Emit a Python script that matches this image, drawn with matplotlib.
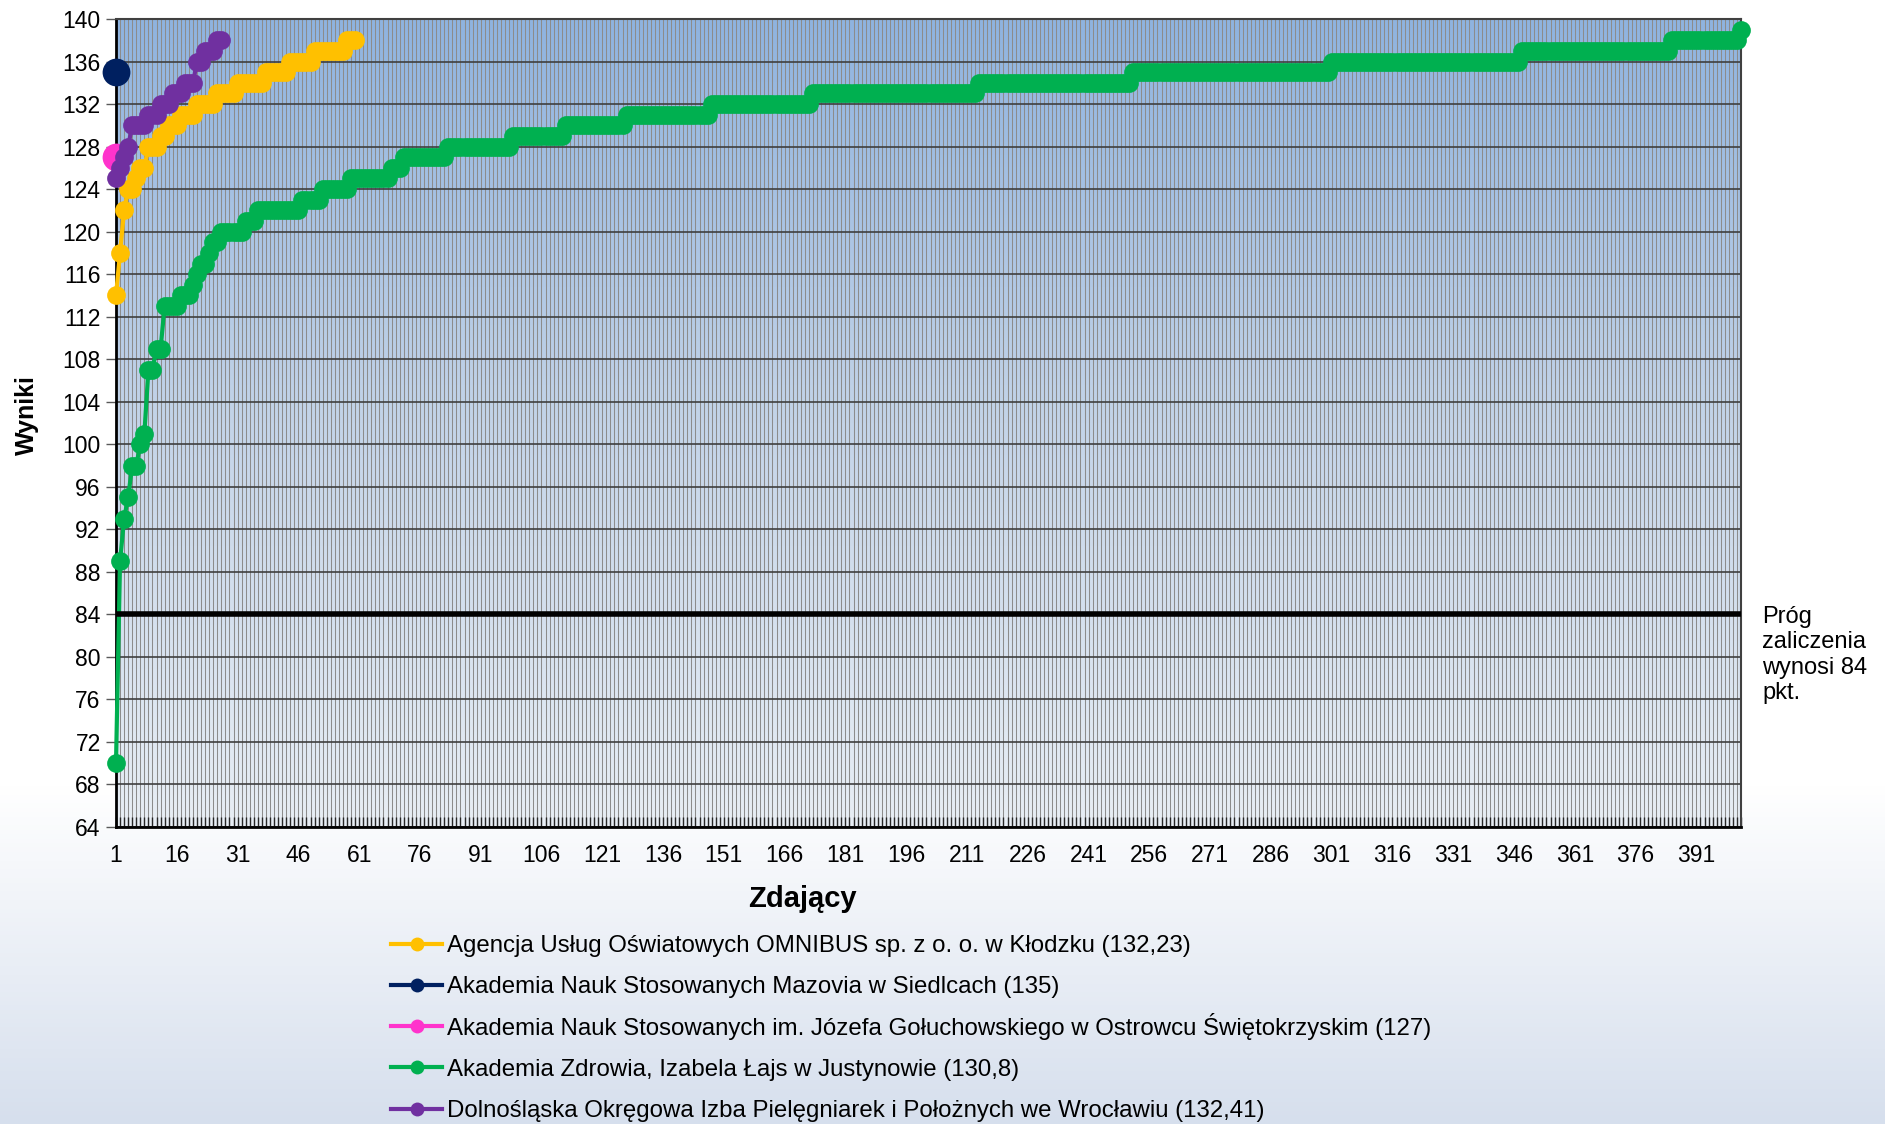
import numpy as np
import matplotlib.pyplot as plt
from matplotlib.colors import LinearSegmentedColormap
from matplotlib.lines import Line2D

plt.rcParams['font.family'] = ['Liberation Sans', 'DejaVu Sans']

# sorted results of each organiser: score levels and how many candidates had each
omnibus_scores = [114, 118, 122, 124, 125, 126, 128, 129, 130, 131, 132, 133, 134, 135, 136, 137, 138]
omnibus_counts = [1, 1, 1, 2, 1, 2, 3, 2, 3, 4, 5, 5, 7, 6, 6, 8, 3]

mazovia_scores = [135]
mazovia_counts = [1]

ostrowiec_scores = [127]
ostrowiec_counts = [1]

zdrowie_scores = [70, 89, 93, 95, 98, 100, 101, 107, 109, 113, 114, 115, 116, 117, 118, 119,
                  120, 121, 122, 123, 124, 125, 126, 127, 128, 129, 130, 131, 132, 133, 134,
                  135, 136, 137, 138, 139]
zdrowie_counts = [1, 1, 1, 1, 2, 1, 1, 2, 2, 4, 3, 1, 1, 2, 1, 2,
                  6, 3, 11, 5, 7, 10, 3, 11, 16, 13, 15, 21, 25, 41, 38,
                  49, 47, 37, 17, 1]

dolnoslaska_scores = [125, 126, 127, 128, 130, 131, 132, 133, 134, 136, 137, 138]
dolnoslaska_counts = [1, 1, 1, 1, 4, 3, 3, 3, 3, 2, 3, 2]

labels = [
    "Agencja Usług Oświatowych OMNIBUS sp. z o. o. w Kłodzku (132,23)",
    "Akademia Nauk Stosowanych Mazovia w Siedlcach (135)",
    "Akademia Nauk Stosowanych im. Józefa Gołuchowskiego w Ostrowcu Świętokrzyskim (127)",
    "Akademia Zdrowia, Izabela Łajs w Justynowie (130,8)",
    "Dolnośląska Okręgowa Izba Pielęgniarek i Położnych we Wrocławiu (132,41)",
]
colors = ["#FFC000", "#002060", "#FF33CC", "#00B050", "#7030A0"]
marker_sizes = [13.5, 20, 20, 13.5, 13.5]

threshold = 84
yticks = np.arange(64, 141, 4)
tick_step = 15

series = [
    np.repeat(omnibus_scores, omnibus_counts),
    np.repeat(mazovia_scores, mazovia_counts),
    np.repeat(ostrowiec_scores, ostrowiec_counts),
    np.repeat(zdrowie_scores, zdrowie_counts),
    np.repeat(dolnoslaska_scores, dolnoslaska_counts),
]
n_cat = max(len(s) for s in series)
cats = np.arange(1, n_cat + 1)

W, H = 1885, 1124
fig = plt.figure(figsize=(W / 100, H / 100), dpi=100)

# page background: white fading to pale blue at the bottom
bg = fig.add_axes([0, 0, 1, 1], zorder=-10)
bg.axis('off')
page_cmap = LinearSegmentedColormap.from_list('page', [(0, '#d6dfed'), (0.3, '#ffffff'), (1, '#ffffff')])
bg.imshow(np.linspace(0, 1, 256).reshape(-1, 1), aspect='auto', cmap=page_cmap,
          extent=[0, 1, 0, 1], origin='lower')

left, right, top, bottom = 116, 1741, 19, 827
ax = fig.add_axes([left / W, 1 - bottom / H, (right - left) / W, (bottom - top) / H])
ax.set_facecolor('none')

plot_cmap = LinearSegmentedColormap.from_list('plot', ['#e8eef5', '#c4d4e8', '#8fb3df'])
ax.imshow(np.linspace(0, 1, 256).reshape(-1, 1), aspect='auto', cmap=plot_cmap,
          extent=[0, 1, 0, 1], origin='lower', transform=ax.transAxes, zorder=0)

for s, lab, col, ms in zip(series, labels, colors, marker_sizes):
    ax.plot(np.arange(1, len(s) + 1), s, '-o', color=col, lw=3, ms=ms,
            markeredgewidth=0, label=lab, clip_on=False, zorder=4)

ax.axhline(threshold, color='black', lw=4, zorder=5)

ax.set_xlim(1, n_cat)
ax.set_ylim(64, 140)
ax.set_yticks(yticks)
ax.set_xticks(cats)
ax.set_xticklabels([str(c) if (c - 1) % tick_step == 0 else '' for c in cats])
ax.tick_params(axis='x', direction='in', length=7, width=1, color='#262626', pad=12, labelsize=16.5)
ax.tick_params(axis='y', direction='out', length=7, width=1, color='#595959', pad=4, labelsize=16.5)

ax.grid(axis='x', color='#8c8c8c', lw=0.75)
ax.grid(axis='y', color='#3f3f3f', lw=1.2)
for g in ax.get_xgridlines() + ax.get_ygridlines():
    g.set_zorder(1.5)

for side in ['left', 'bottom']:
    ax.spines[side].set_color('black')
    ax.spines[side].set_linewidth(2)
for side in ['top', 'right']:
    ax.spines[side].set_color('#404040')
    ax.spines[side].set_linewidth(1.5)

fig.text(26.5 / W, 1 - 415 / H, 'Wyniki', rotation=90, ha='center', va='center',
         fontsize=18, fontweight='bold')
fig.text(802 / W, 1 - 899 / H, 'Zdający', ha='center', va='center',
         fontsize=21, fontweight='bold')

fig.text(1762 / W, 1 - 606 / H, 'Próg\nzaliczenia\nwynosi 84\npkt.', ha='left', va='top',
         fontsize=17, linespacing=1.2)

# legend rows laid out by hand so the spacing stays even
row_y = 943.7
for lab, col in zip(labels, colors):
    yf = 1 - row_y / H
    fig.add_artist(Line2D([391 / W, 442 / W], [yf, yf], color=col, lw=3,
                          transform=fig.transFigure))
    fig.add_artist(Line2D([416.5 / W], [yf], color=col, marker='o', ms=10,
                          markeredgewidth=0, transform=fig.transFigure))
    fig.text(447 / W, 1 - (row_y + 8.5) / H, lab, ha='left', va='baseline', fontsize=17.25)
    row_y += 41.2

fig.savefig('out.png', dpi=100)
